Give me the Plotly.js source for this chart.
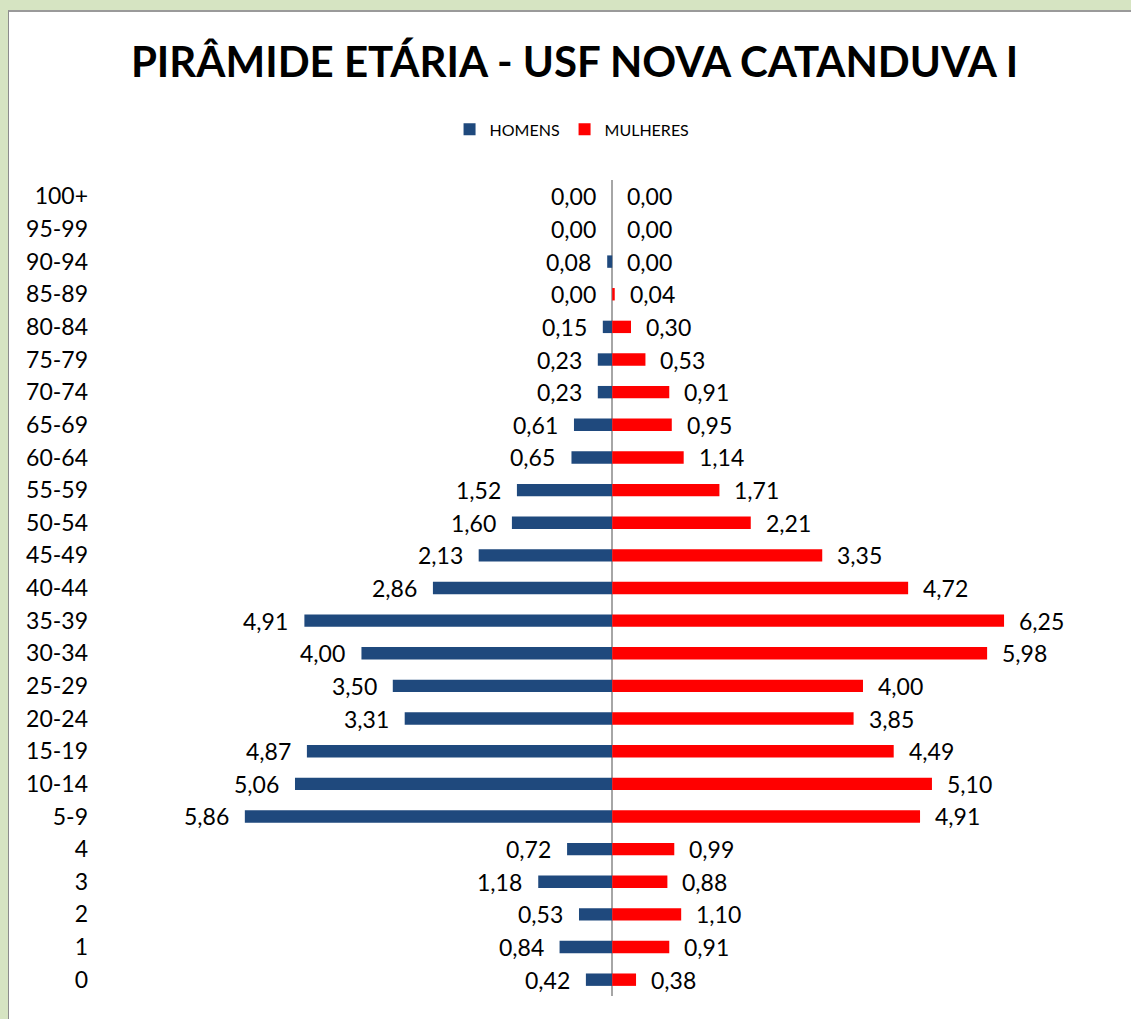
<!DOCTYPE html>
<html>
<head>
<meta charset="utf-8">
<script src="https://cdn.plot.ly/plotly-3.0.1.min.js"></script>
<style>
  html, body { margin: 0; padding: 0; width: 1131px; height: 1019px; overflow: hidden; background: #d6e4c2; }
  #frame { position: absolute; left: 8px; top: 10px; width: 1123px; height: 1009px; border-left: 1px solid #8c8c8c; border-top: 2px solid #9a9a9a; background: #ffffff; }
  #chart { width: 1122px; height: 1007px; }
</style>
</head>
<body>
<div id="frame"><div id="chart"></div></div>
<script>
// Age groups (bottom to top)
var ageGroups = ['0','1','2','3','4','5-9','10-14','15-19','20-24','25-29','30-34','35-39','40-44','45-49','50-54','55-59','60-64','65-69','70-74','75-79','80-84','85-89','90-94','95-99','100+'];
// Percent of population, men
var homens = [0.42, 0.84, 0.53, 1.18, 0.72, 5.86, 5.06, 4.87, 3.31, 3.50, 4.00, 4.91, 2.86, 2.13, 1.60, 1.52, 0.65, 0.61, 0.23, 0.23, 0.15, 0.00, 0.08, 0.00, 0.00];
// Percent of population, women
var mulheres = [0.38, 0.91, 1.10, 0.88, 0.99, 4.91, 5.10, 4.49, 3.85, 4.00, 5.98, 6.25, 4.72, 3.35, 2.21, 1.71, 1.14, 0.95, 0.91, 0.53, 0.30, 0.04, 0.00, 0.00, 0.00];

function fmt(v) { return v.toFixed(2).replace('.', ','); }

var FONT = 'Lato, "Open Sans", sans-serif';
var menX = homens.map(function (v) { return -v; });

var traceH = {
  type: 'bar', orientation: 'h', name: 'HOMENS',
  y: ageGroups, x: menX,
  marker: { color: '#1f497d' },
  width: 0.38, hoverinfo: 'skip'
};
var traceM = {
  type: 'bar', orientation: 'h', name: 'MULHERES',
  y: ageGroups, x: mulheres,
  marker: { color: '#ff0000' },
  width: 0.38, hoverinfo: 'skip'
};

// Value labels, anchored to the data through the axes
var annotations = [];
ageGroups.forEach(function (g, i) {
  annotations.push({
    xref: 'x', yref: 'y', x: menX[i], y: g, text: fmt(homens[i]),
    xanchor: 'right', yanchor: 'middle', showarrow: false,
    xshift: -14, yshift: 0,
    font: { family: FONT, size: 23, color: '#000000' }
  });
  annotations.push({
    xref: 'x', yref: 'y', x: mulheres[i], y: g, text: fmt(mulheres[i]),
    xanchor: 'left', yanchor: 'middle', showarrow: false,
    xshift: 13, yshift: 0,
    font: { family: FONT, size: 23, color: '#000000' }
  });
});

var layout = {
  width: 1122, height: 1007,
  margin: { l: 86, r: 21, t: 168, b: 23 },
  paper_bgcolor: '#ffffff', plot_bgcolor: '#ffffff',
  barmode: 'overlay',
  showlegend: true,
  font: { family: FONT, color: '#000000' },
  title: {
    text: '<b>PIRÂMIDE ETÁRIA - USF NOVA CATANDUVA I</b>',
    font: { family: FONT, size: 42, color: '#000000' },
    xref: 'container', x: 0.504, xanchor: 'center',
    yref: 'container', y: 0.95, yanchor: 'middle'
  },
  legend: {
    orientation: 'h', x: 0.47, xanchor: 'center', y: 1.062, yanchor: 'middle',
    font: { family: FONT, size: 16, color: '#000000' },
    itemwidth: 30, traceorder: 'normal'
  },
  xaxis: {
    range: [-8.25, 7.94], showticklabels: false, ticks: '', showgrid: false,
    zeroline: true, zerolinecolor: '#a6a6a6', zerolinewidth: 2, showline: false, fixedrange: true
  },
  yaxis: {
    type: 'category', categoryorder: 'array', categoryarray: ageGroups,
    range: [-0.5, 24.5], showgrid: false, zeroline: false, showline: false, ticks: '',
    ticklabelstandoff: 6,
    tickfont: { family: FONT, size: 23, color: '#000000' }, fixedrange: true
  },
  annotations: annotations
};

Plotly.newPlot('chart', [traceH, traceM], layout, { displayModeBar: false, staticPlot: true });
</script>
</body>
</html>
